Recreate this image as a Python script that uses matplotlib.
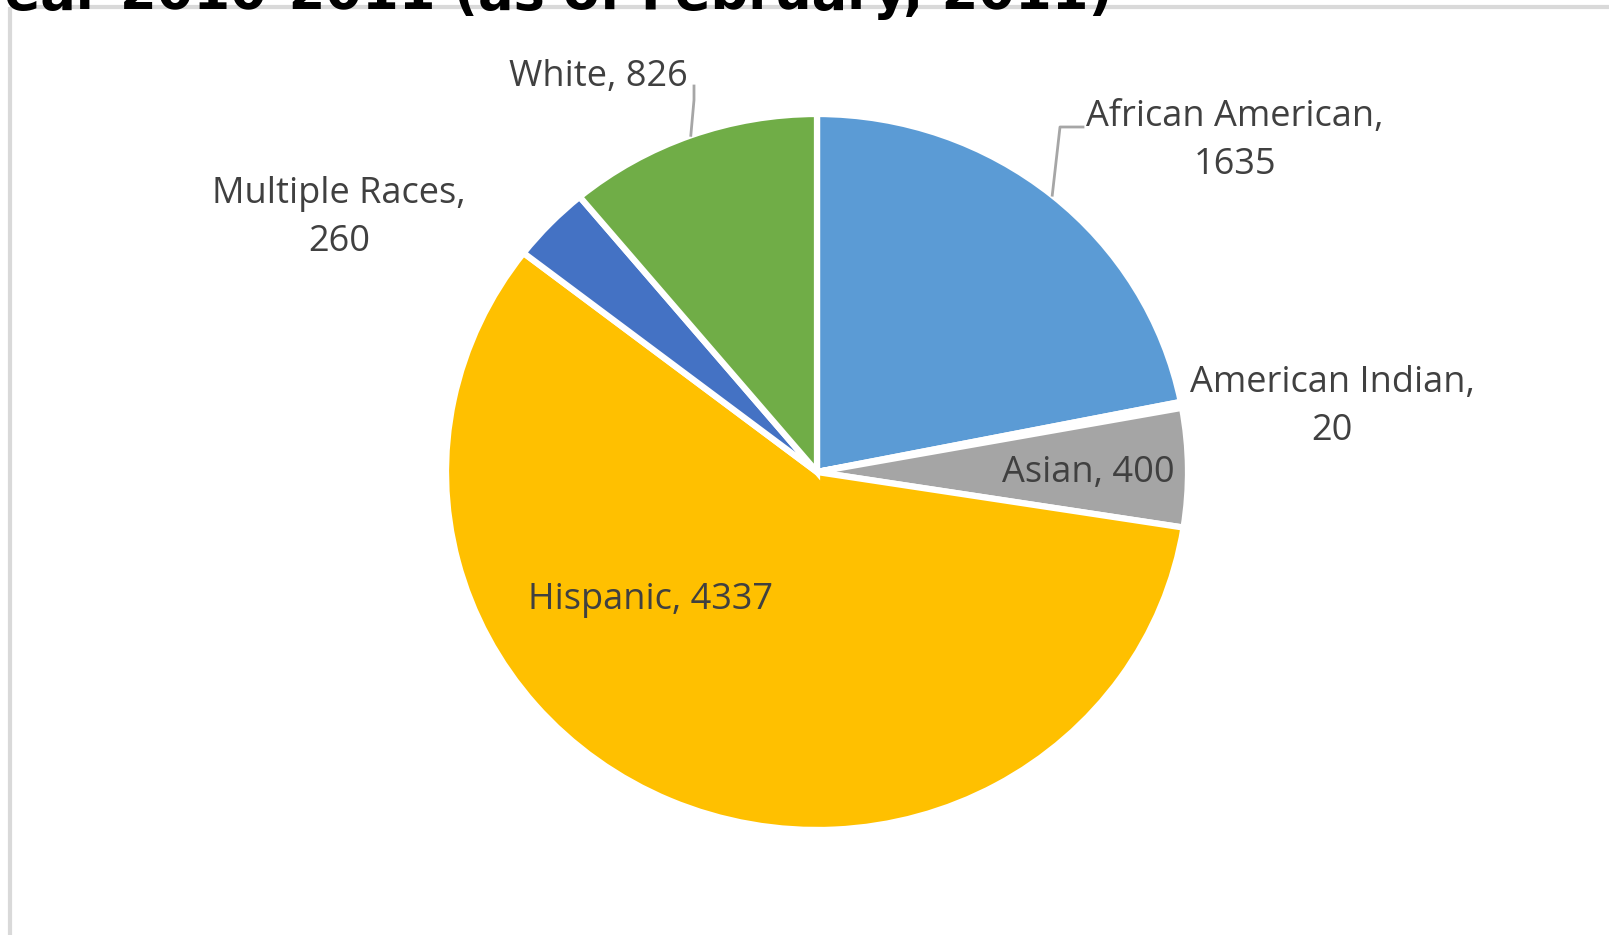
import numpy as np
import matplotlib.pyplot as plt
from matplotlib.lines import Line2D

# enrollment by race / ethnicity
groups = ['African American', 'American Indian', 'Asian', 'Hispanic', 'Multiple Races', 'White']
counts = [1635, 20, 400, 4337, 260, 826]
colors = ['#5B9BD5', '#ED7D31', '#A5A5A5', '#FFC000', '#4472C4', '#70AD47']

W, H = 1609, 935
cx, cy = 817, 472      # pie centre, pixels from top-left
rx, ry = 371, 358      # pie radii (slightly stretched like the source)

fig = plt.figure(figsize=(W / 100, H / 100), dpi=100)
plt.rcParams['font.family'] = ['Open Sans', 'DejaVu Sans']

ax = fig.add_axes([(cx - rx) / W, (H - cy - ry) / H, 2 * rx / W, 2 * ry / H])
wedges, _ = ax.pie(counts, colors=colors, startangle=90, counterclock=False,
                   wedgeprops=dict(edgecolor='white', linewidth=4.5))
ax.set_aspect('auto')
ax.set_xlim(-1, 1)
ax.set_ylim(-1, 1)

# overlay axes in pixel coords for frame, title and labels
bg = fig.add_axes([0, 0, 1, 1])
bg.set_xlim(0, W)
bg.set_ylim(H, 0)
bg.axis('off')
bg.plot([10, 10], [7, H], color='#d9d9d9', lw=3, solid_capstyle='butt')
bg.plot([10, W], [7, 7], color='#d9d9d9', lw=3, solid_capstyle='butt')

bg.text(1113, 9, 'Student Enrollment by Ethnicity, School Year 2010-2011 (as of February, 2011)',
        ha='right', va='baseline', fontsize=38, fontweight='bold', color='black',
        family='DejaVu Sans')

def edge_px(w):
    a = np.deg2rad((w.theta1 + w.theta2) / 2)
    return cx + rx * np.cos(a), cy - ry * np.sin(a)

txt = dict(fontsize=26, color='#404040', ha='center', va='center', linespacing=1.42)
lab = {g: '%s, %d' % (g, c) for g, c in zip(groups, counts)}

# outside labels with leader lines
bg.text(1235, 141, 'African American,\n1635', **txt)
ex, ey = edge_px(wedges[0])
bg.add_line(Line2D([ex, 1060, 1083], [ey, 127, 127], color='#a6a6a6', lw=2))

bg.text(1332, 407, 'American Indian,\n20', **txt)
bg.text(1088, 473, lab['Asian'], **txt)
bg.text(651, 600, lab['Hispanic'], **txt)
bg.text(339, 218, 'Multiple Races,\n260', **txt)

bg.text(598, 77, lab['White'], **txt)
ex, ey = edge_px(wedges[5])
bg.add_line(Line2D([ex, 694, 694], [ey, 100, 86], color='#a6a6a6', lw=2))

fig.savefig('out.png', dpi=100)
